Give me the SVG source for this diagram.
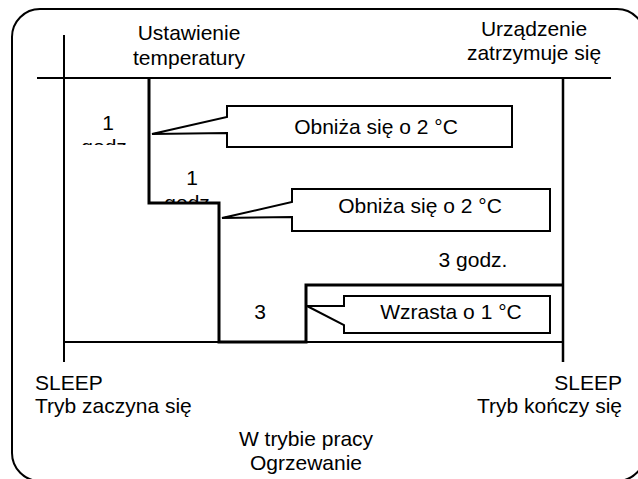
<svg xmlns="http://www.w3.org/2000/svg" width="638" height="479" viewBox="0 0 638 479">
<style>
text{font-family:"Liberation Sans",Arial,sans-serif;font-size:21px;fill:#000}
.m{text-anchor:middle}
.e{text-anchor:end}
.thin{fill:none;stroke:#000;stroke-width:2}
.thick{fill:none;stroke:#000;stroke-width:3;stroke-linejoin:miter}
.call{fill:#fff;stroke:#000;stroke-width:2;stroke-linejoin:miter}
</style>
<defs>
<clipPath id="c1"><rect x="80" y="130" width="60" height="15"/></clipPath>
<clipPath id="c2"><rect x="160" y="190" width="60" height="12"/></clipPath>
</defs>
<rect x="12" y="9" width="633" height="472" rx="28" ry="28" class="thin"/>
<g id="axes">
<line x1="37" y1="78" x2="611" y2="78" class="thin"/>
<line x1="64" y1="35" x2="64" y2="362" class="thin"/>
<line x1="563" y1="78" x2="563" y2="362" class="thin" style="stroke-width:2.5"/>
<line x1="64" y1="342" x2="563" y2="342" class="thin"/>
</g>
<g id="connectors">
<polyline points="149,78 149,203 219,203 219,342 306,342 306,285 563,285" class="thick"/>
</g>
<g id="callout1">
<polygon points="227,106 512,106 512,147 227,147 227,133 152,134 227,117" class="call"/>
<text x="376" y="134" class="m">Obniża się o 2 °C</text>
</g>
<g id="callout2">
<polygon points="292,189 550,189 550,231 292,231 292,217 222,218 292,202" class="call"/>
<text x="420" y="213" class="m">Obniża się o 2 °C</text>
</g>
<g id="callout3">
<polygon points="344,296 550,296 550,333 344,333 344,325 307,306 344,306" class="call"/>
<text x="451" y="319" class="m">Wzrasta o 1 °C</text>
</g>
<g id="labels">
<text x="189" y="40" class="m">Ustawienie</text>
<text x="189" y="65" class="m">temperatury</text>
<text x="534" y="36" class="m">Urządzenie</text>
<text x="534" y="60" class="m">zatrzymuje się</text>
<text x="108" y="130" class="m">1</text>
<text x="107" y="154" class="m" clip-path="url(#c1)">godz.</text>
<text x="192" y="185" class="m">1</text>
<text x="190" y="210" class="m" clip-path="url(#c2)">godz.</text>
<text x="260" y="319" class="m">3</text>
<text x="473" y="267" class="m">3 godz.</text>
<text x="35" y="390">SLEEP</text>
<text x="35" y="413">Tryb zaczyna się</text>
<text x="622" y="390" class="e">SLEEP</text>
<text x="622" y="413" class="e">Tryb kończy się</text>
<text x="306" y="446" class="m">W trybie pracy</text>
<text x="306" y="470" class="m">Ogrzewanie</text>
</g>
</svg>
